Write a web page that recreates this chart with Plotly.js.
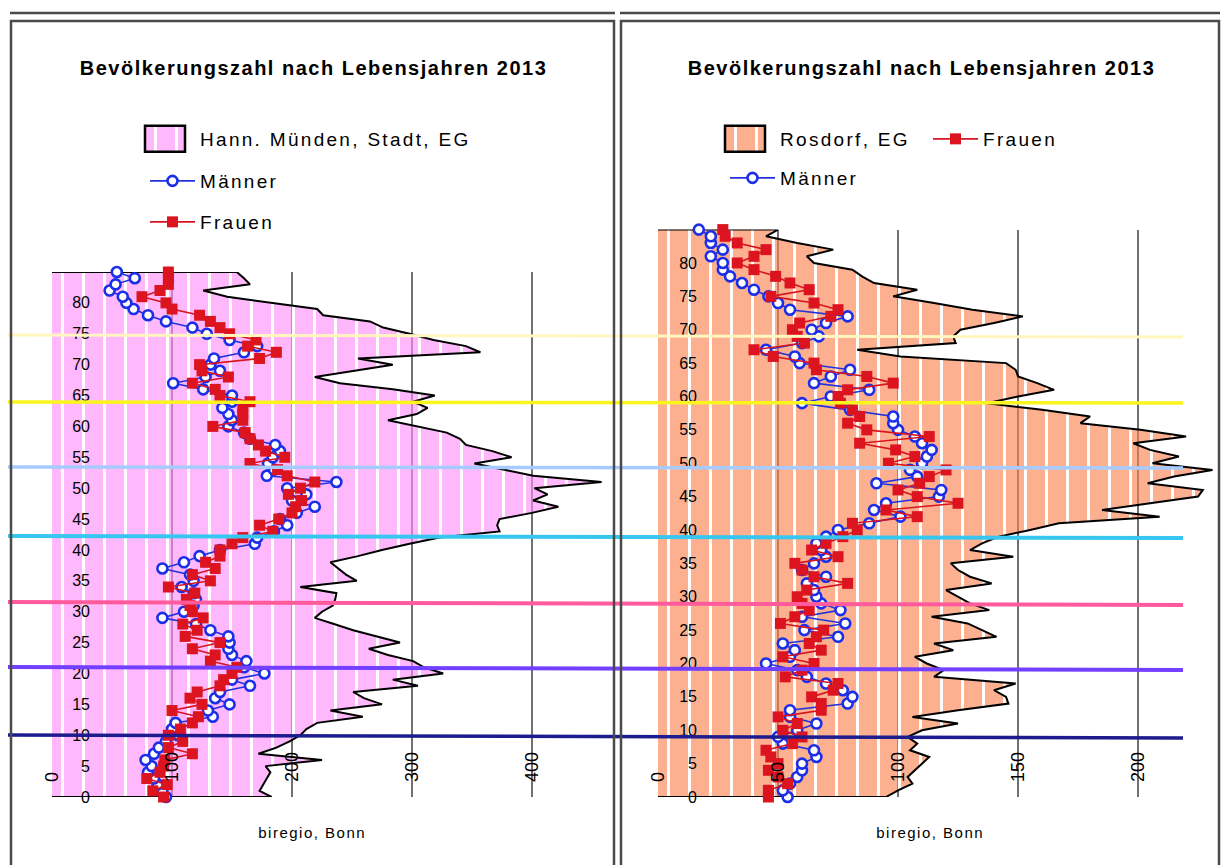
<!DOCTYPE html>
<html>
<head>
<meta charset="utf-8">
<script src="https://cdn.plot.ly/plotly-3.0.1.min.js"></script>
<style>
html,body{margin:0;padding:0;background:#fff;}
#chart{width:1224px;height:865px;}
</style>
</head>
<body>
<div id="chart"></div>
<script>
// ---------- data ----------
const ages = [0,1,2,3,4,5,6,7,8,9,10,11,12,13,14,15,16,17,18,19,20,21,22,23,24,25,26,27,28,29,
  30,31,32,33,34,35,36,37,38,39,40,41,42,43,44,45,46,47,48,49,50,51,52,53,54,55,56,57,58,59,
  60,61,62,63,64,65,66,67,68,69,70,71,72,73,74,75,76,77,78,79,80,81,82,83,84,85];

// Hann. Münden, Stadt, EG
const hmTotal = [183,173,176,179,182,178,225,172,187,198,
  207,212,221,259,232,275,260,251,305,284,
  326,310,301,280,264,290,270,251,235,219,
  225,234,236,237,207,254,245,238,232,255,
  275,298,323,373,371,373,400,422,401,413,
  402,458,401,377,352,383,367,345,340,329,
  305,280,304,313,301,319,284,240,219,250,
  284,255,357,345,318,298,276,265,226,221,
  184,146,126,165,160,154];
const hmMaenner = [95,92,88,85,80,83,78,85,89,95,
  105,100,103,134,130,148,136,140,165,150,
  177,160,162,150,147,148,147,132,120,92,
  110,118,120,118,108,118,115,92,110,123,
  140,169,171,185,196,190,204,219,200,212,
  196,237,179,185,180,184,190,186,165,160,
  147,150,147,142,150,150,126,101,128,140,
  132,135,160,171,148,129,117,95,80,68,
  62,59,48,53,69,54];
const hmFrauen = [93,84,96,79,90,93,94,117,97,109,
  97,107,117,122,100,125,115,121,140,143,
  150,154,132,136,117,140,111,121,109,126,
  117,115,112,119,97,132,117,136,128,140,
  140,150,159,184,173,189,200,203,208,197,
  207,219,196,188,165,194,178,172,165,161,
  134,159,159,159,165,140,136,117,147,125,
  123,173,187,163,170,148,140,132,123,100,
  95,75,90,97,97,97];

// Rosdorf, EG
const rdTotal = [95,100,106,104,107,110,113,105,108,104,
  110,125,106,125,146,145,140,149,115,119,
  112,107,123,115,141,135,129,114,138,130,
  125,120,139,130,125,122,148,130,135,142,
  155,167,209,185,205,225,227,204,215,231,
  206,217,205,198,220,201,176,180,160,137,
  150,165,158,150,149,145,101,83,124,123,
  126,140,152,131,115,98,108,90,85,81,
  65,62,73,58,45,50];
const rdMaenner = [54,52,55,58,60,60,66,65,52,50,
  58,66,55,55,79,81,77,70,62,58,
  45,55,57,52,75,61,78,60,76,68,
  66,65,62,70,60,65,70,68,66,70,
  75,88,101,90,95,117,118,91,108,105,
  110,112,114,110,107,100,98,98,80,60,
  72,88,65,72,80,59,57,45,60,67,
  64,70,79,55,50,46,40,35,30,27,
  27,22,27,22,22,17];
const rdFrauen = [46,46,54,50,46,50,47,45,56,60,
  52,58,50,68,68,64,73,75,53,60,
  65,52,68,63,66,69,51,57,63,60,
  58,62,79,65,60,57,75,64,70,77,
  83,81,108,95,125,108,100,109,113,120,
  96,107,99,84,113,87,79,84,81,76,
  75,79,98,87,66,65,48,40,61,58,
  56,59,72,75,65,47,63,55,49,40,
  33,40,45,33,28,27];

const xTicksLeft = [0,100,200,300,400];
const xTicksRight = [0,50,100,150,200];
const ageTicks = [0,5,10,15,20,25,30,35,40,45,50,55,60,65,70,75,80];

const titleText = 'Bevölkerungszahl nach Lebensjahren 2013';
const sourceText = 'biregio, Bonn';
const nameLeft = 'Hann. Münden, Stadt, EG';
const nameRight = 'Rosdorf, EG';
const nameM = 'Männer';
const nameF = 'Frauen';

// ---------- helpers ----------
const W = 1224, H = 865;
const px = v => v / W;
const py = v => 1 - v / H;
const FONT = 'Liberation Sans, Arial, Helvetica, sans-serif';
const lastAge = ages[ages.length - 1];

function areaTrace(total, name, xa, ya, bg, legend) {
  return {
    type: 'scatter', mode: 'lines', name: name,
    x: [0].concat(total, [0]),
    y: [ages[0]].concat(ages, [lastAge]),
    xaxis: xa, yaxis: ya,
    fill: 'toself',
    fillcolor: bg,
    fillpattern: {shape: '|', bgcolor: bg, fgcolor: '#ffffff', size: 21, solidity: 0.14},
    line: {color: '#000000', width: 2},
    legend: legend, hoverinfo: 'skip'
  };
}
function menTrace(vals, xa, ya, legend) {
  return {
    type: 'scatter', mode: 'lines+markers', name: nameM,
    x: vals, y: ages, xaxis: xa, yaxis: ya,
    line: {color: '#2233dd', width: 1.6},
    marker: {symbol: 'circle', size: 10, color: '#ffffff', line: {color: '#1c2fe8', width: 2.6}},
    cliponaxis: false, legend: legend
  };
}
function womenTrace(vals, xa, ya, legend) {
  return {
    type: 'scatter', mode: 'lines+markers', name: nameF,
    x: vals, y: ages, xaxis: xa, yaxis: ya,
    line: {color: '#d8141e', width: 1.6},
    marker: {symbol: 'square', size: 11, color: '#dc1420', line: {width: 0}},
    cliponaxis: false, legend: legend
  };
}

const data = [
  areaTrace(hmTotal, nameLeft, 'x', 'y', 'rgba(255,140,248,0.62)', 'legend'),
  menTrace(hmMaenner, 'x', 'y', 'legend2'),
  womenTrace(hmFrauen, 'x', 'y', 'legend3'),
  areaTrace(rdTotal, nameRight, 'x2', 'y2', 'rgba(250,128,76,0.62)', 'legend4'),
  menTrace(rdMaenner, 'x2', 'y2', 'legend6'),
  womenTrace(rdFrauen, 'x2', 'y2', 'legend5')
];

function xAxis(dom, rng, ticks) {
  return {
    domain: dom, range: rng, anchor: 'free', position: py(782), side: 'top',
    tickmode: 'array', tickvals: ticks, ticktext: ticks.map(String), tickangle: -90,
    showgrid: true, gridcolor: '#707070', gridwidth: 2,
    zeroline: false, showline: false, ticks: '',
    tickfont: {family: FONT, size: 18, color: '#000'}, fixedrange: true
  };
}
function yAxis(dom, pos) {
  return {
    domain: dom, range: [0, lastAge], anchor: 'free', position: pos, side: 'left',
    tickmode: 'array', tickvals: ageTicks, ticktext: ageTicks.map(String),
    showgrid: false, zeroline: false, showline: false, ticks: '',
    tickfont: {family: FONT, size: 16, color: '#000'}, fixedrange: true
  };
}
function legendAt(x, y) {
  return {x: px(x), xanchor: 'left', y: py(y), yanchor: 'middle',
    bgcolor: 'rgba(0,0,0,0)', borderwidth: 0, itemwidth: 45,
    font: {family: FONT, size: 19, color: '#000'}};
}

// coloured horizontal marker lines across both panels
const bands = [
  {y0: 335, y1: 337, c: '#fff7bf', w: 3},
  {y0: 402, y1: 403, c: '#fbf51e', w: 3.5},
  {y0: 467, y1: 468, c: '#a6ccff', w: 3.5},
  {y0: 536, y1: 538, c: '#36c6f0', w: 4},
  {y0: 602, y1: 605, c: '#ff5b9c', w: 4},
  {y0: 667, y1: 670, c: '#7440ff', w: 4},
  {y0: 735, y1: 738, c: '#1c1c8e', w: 3.5}
];
const shapes = bands.map(b => ({type: 'line', xref: 'paper', yref: 'paper',
  x0: px(8), x1: px(1183), y0: py(b.y0), y1: py(b.y1),
  line: {color: b.c, width: b.w}, layer: 'above'}));
// panel frames
const frameCol = '#4a4a4a';
shapes.push(
  {type: 'line', xref: 'paper', yref: 'paper', x0: px(10), x1: px(615), y0: py(13), y1: py(13), line: {color: frameCol, width: 2.5}},
  {type: 'line', xref: 'paper', yref: 'paper', x0: px(620), x1: px(1220), y0: py(13), y1: py(13), line: {color: frameCol, width: 2.5}},
  {type: 'rect', xref: 'paper', yref: 'paper', x0: px(11), x1: px(614), y0: py(21), y1: py(875), line: {color: frameCol, width: 2.5}},
  {type: 'rect', xref: 'paper', yref: 'paper', x0: px(621), x1: px(1219), y0: py(21), y1: py(875), line: {color: frameCol, width: 2.5}}
);

const annotations = [
  {text: '<b>' + titleText + '</b>', x: px(313), y: py(68), size: 20},
  {text: '<b>' + titleText + '</b>', x: px(921), y: py(68), size: 20},
  {text: sourceText, x: px(312), y: py(832), size: 15},
  {text: sourceText, x: px(930), y: py(832), size: 15}
].map(a => ({text: a.text, xref: 'paper', yref: 'paper', x: a.x, y: a.y,
  xanchor: 'center', yanchor: 'middle', showarrow: false,
  font: {family: FONT, size: a.size, color: '#000'}}));

const layout = {
  width: W, height: H,
  margin: {l: 0, r: 0, t: 0, b: 0},
  paper_bgcolor: '#ffffff', plot_bgcolor: 'rgba(0,0,0,0)',
  font: {family: FONT, color: '#000'},
  showlegend: true,
  xaxis: xAxis([px(52), px(612)], [0, 466.7], xTicksLeft),
  yaxis: yAxis([py(797), py(272)], px(90)),
  xaxis2: xAxis([px(658), px(1218)], [0, 233.3], xTicksRight),
  yaxis2: yAxis([py(797), py(229.6)], px(697)),
  legend: legendAt(145, 139),
  legend2: legendAt(145, 181),
  legend3: legendAt(145, 222),
  legend4: legendAt(725, 139),
  legend5: legendAt(928, 139),
  legend6: legendAt(725, 178),
  shapes: shapes,
  annotations: annotations
};

function polish(gd) {
  // the reference text is set with wide tracking
  gd.querySelectorAll('.traces text').forEach(t => { t.style.letterSpacing = '2.3px'; });
  gd.querySelectorAll('text.annotation-text').forEach(t => { t.style.letterSpacing = '1.5px'; });
  gd.querySelectorAll('.traces').forEach(tr => {
    // let the wider legend text show fully
    let el = tr.parentNode;
    while (el && el !== gd && el.tagName.toLowerCase() !== 'svg') {
      if (el.hasAttribute && el.hasAttribute('clip-path')) el.removeAttribute('clip-path');
      el = el.parentNode;
    }
    // draw the area legend keys as framed boxes like the reference
    tr.querySelectorAll('path').forEach(p => {
      const par = (p.parentNode && p.parentNode.getAttribute('class')) || '';
      if (par.indexOf('legendfill') >= 0) {
        p.setAttribute('d', 'M0,-13h40v26h-40z');
        p.style.stroke = '#000';
        p.style.strokeWidth = '2.5px';
        const ln = tr.querySelector('.legendlines path');
        if (ln) ln.style.display = 'none';
      }
    });
  });
}

Plotly.newPlot('chart', data, layout, {staticPlot: true, displayModeBar: false}).then(gd => {
  polish(gd);
  setTimeout(() => polish(gd), 50);
});
</script>
</body>
</html>
